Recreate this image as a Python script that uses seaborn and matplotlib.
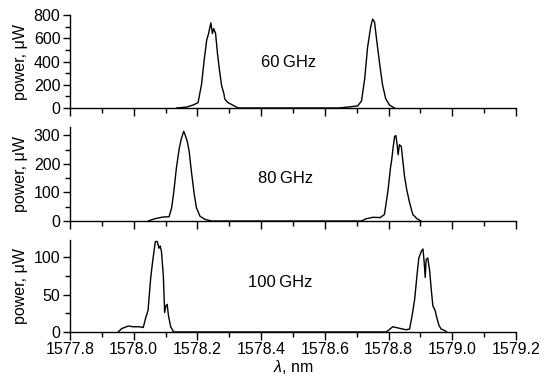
import numpy as np
import pandas as pd
import matplotlib
matplotlib.use("Agg")
import matplotlib.pyplot as plt
from matplotlib.ticker import MultipleLocator, FormatStrFormatter
import seaborn as sns

# ---- spectra (wavelength in nm, power in uW) ----
wl_60 = [1578.134, 1578.166, 1578.187, 1578.202, 1578.213, 1578.221, 1578.229, 1578.235,
         1578.242, 1578.247, 1578.251, 1578.257, 1578.263, 1578.270, 1578.276, 1578.283,
         1578.286, 1578.296, 1578.312, 1578.328,
         1578.646, 1578.678, 1578.703, 1578.715, 1578.725, 1578.734, 1578.744, 1578.750,
         1578.756, 1578.762, 1578.772, 1578.781, 1578.791, 1578.803, 1578.819]
p_60 = [0, 8, 26, 46, 206, 409, 583, 641, 733, 641, 684, 641, 467, 307, 191, 124,
        76, 46, 23, 0,
        0, 10, 18, 60, 250, 520, 700, 765, 740, 600, 380, 200, 80, 25, 0]

wl_80 = [1578.045, 1578.066, 1578.092, 1578.111, 1578.119, 1578.126, 1578.134, 1578.143,
         1578.150, 1578.157, 1578.163, 1578.168, 1578.174, 1578.181, 1578.190, 1578.197,
         1578.208, 1578.223, 1578.244,
         1578.714, 1578.730, 1578.751, 1578.774, 1578.787, 1578.798, 1578.806, 1578.810,
         1578.814, 1578.819, 1578.823, 1578.827, 1578.830, 1578.834, 1578.840, 1578.845,
         1578.850, 1578.857, 1578.866, 1578.876, 1578.889, 1578.902]
p_80 = [0, 8, 14, 15, 46, 104, 186, 255, 290, 314, 296, 279, 244, 174, 93, 46, 17, 6, 0,
        0, 8, 13, 12, 23, 105, 186, 215, 255, 296, 299, 267, 232, 267, 261, 209,
        157, 110, 64, 23, 8, 0]

wl_100 = [1577.951, 1577.962, 1577.983, 1577.998, 1578.019, 1578.030, 1578.037, 1578.045,
          1578.053, 1578.059, 1578.063, 1578.068, 1578.074, 1578.079, 1578.083, 1578.087,
          1578.093, 1578.097, 1578.101, 1578.105, 1578.109, 1578.116, 1578.124, 1578.129,
          1578.793, 1578.813, 1578.834, 1578.855, 1578.866, 1578.874, 1578.882, 1578.889,
          1578.895, 1578.903, 1578.908, 1578.912, 1578.915, 1578.918, 1578.923, 1578.929,
          1578.934, 1578.939, 1578.946, 1578.951, 1578.958, 1578.965, 1578.976, 1578.983]
p_100 = [0, 4.5, 8, 7, 7, 6, 18, 29, 71, 93, 106, 121, 121, 112, 115, 108,
         75, 26, 35, 37, 22, 7, 1, 0,
         0, 7, 5, 3, 4, 22, 44, 75, 99, 108, 111, 92, 73, 97, 99, 82,
         57, 35, 29, 20, 9, 4, 2, 0]

panel_labels = ["60\u2009GHz", "80\u2009GHz", "100\u2009GHz"]
label_pos = [(1578.40, 390), (1578.39, 150), (1578.36, 66)]
y_limits = [800, 330, 123]
y_major = [200, 100, 50]
y_minor = [100, 50, 25]

sns.set_style("ticks")
plt.rcParams["font.family"] = ["Liberation Sans", "DejaVu Sans"]
plt.rcParams["mathtext.fontset"] = "custom"
plt.rcParams["mathtext.it"] = "Liberation Sans:italic"
plt.rcParams["mathtext.rm"] = "Liberation Sans"
plt.rcParams["font.size"] = 11.5
for key in ["text.color", "axes.labelcolor", "xtick.color", "ytick.color", "axes.edgecolor"]:
    plt.rcParams[key] = "black"

fig = plt.figure(figsize=(5.44, 3.76), dpi=100)
rects = [[0.1287, 0.7128, 0.8198, 0.2472],
         [0.1287, 0.4122, 0.8198, 0.2508],
         [0.1287, 0.1170, 0.8198, 0.2447]]

series = [(wl_60, p_60), (wl_80, p_80), (wl_100, p_100)]
for i, (wl, pw) in enumerate(series):
    ax = fig.add_axes(rects[i])
    df = pd.DataFrame({"wavelength": wl, "power": pw})
    sns.lineplot(data=df, x="wavelength", y="power", color="black", lw=1.0,
                 estimator=None, sort=False, ax=ax)
    ax.set_xlim(1577.8, 1579.2)
    ax.set_ylim(0, y_limits[i])
    ax.xaxis.set_major_locator(MultipleLocator(0.2))
    ax.xaxis.set_minor_locator(MultipleLocator(0.1))
    ax.yaxis.set_major_locator(MultipleLocator(y_major[i]))
    ax.yaxis.set_minor_locator(MultipleLocator(y_minor[i]))
    ax.tick_params(which="major", direction="out", length=5.4, width=1.0,
                   labelsize=11.5, pad=1.5)
    ax.tick_params(which="minor", direction="out", length=3.6, width=1.0)
    for s in ["left", "bottom"]:
        ax.spines[s].set_linewidth(1.0)
    sns.despine(ax=ax)
    ax.set_ylabel("power, \u03bcW", fontsize=11.5)
    ax.yaxis.set_label_coords(-0.095, 0.5)
    ax.text(label_pos[i][0], label_pos[i][1], panel_labels[i], fontsize=12,
            va="center", ha="left")
    if i < 2:
        ax.set_xlabel("")
        ax.tick_params(labelbottom=False)
    else:
        ax.set_xlabel(r"$\lambda$, nm", fontsize=11.5, labelpad=1)
        ax.xaxis.set_major_formatter(FormatStrFormatter("%.1f"))

fig.savefig("out.png", dpi=100)
